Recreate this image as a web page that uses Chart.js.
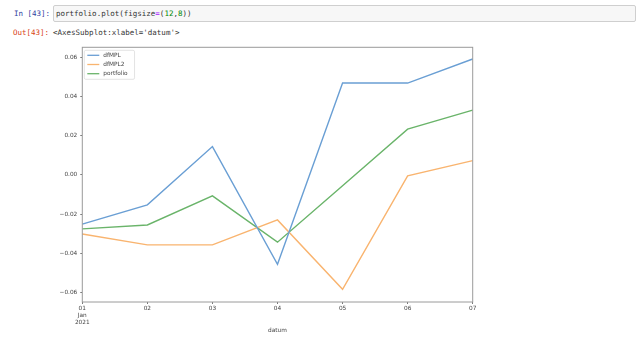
<!DOCTYPE html>
<html>
<head>
<meta charset="utf-8">
<script src="https://cdn.jsdelivr.net/npm/chart.js@4.4.1/dist/chart.umd.min.js"></script>
<style>
  html, body { margin: 0; padding: 0; background: #fff; }
  body { width: 637px; height: 337px; position: relative; overflow: hidden; }
  #chart { position: absolute; left: 0; top: 0; }
  .mono { font-family: "DejaVu Sans Mono", monospace; font-size: 7.5px; position: absolute; white-space: pre; line-height: 10px; }
  #inp { left: 14px; top: 9px; color: #303f9f; }
  #box { position: absolute; left: 53px; top: 5px; width: 583px; height: 17px; background: #f7f7f7; border: 1px solid #cfcfcf; border-radius: 2px; box-sizing: border-box; }
  #code { left: 56px; top: 9px; color: #333; }
  #out { left: 13px; top: 28px; color: #d84315; }
  #res { left: 53px; top: 28px; color: #333; }
</style>
</head>
<body>
<div id="box"></div>
<div class="mono" id="inp">In [43]:</div>
<div class="mono" id="code">portfolio.plot(figsize<span style="color:#aa22ff">=</span>(<span style="color:#080">12</span>,<span style="color:#080">8</span>))</div>
<div class="mono" id="out">Out[43]:</div>
<div class="mono" id="res">&lt;AxesSubplot:xlabel='datum'&gt;</div>
<canvas id="chart" width="637" height="337"></canvas>
<script>
const dates = [["01", "Jan", "2021"], "02", "03", "04", "05", "06", "07"];
const dfMPL = [-0.0252, -0.0153, 0.0145, -0.0457, 0.0470, 0.0470, 0.0593];
const dfMPL2 = [-0.0302, -0.0358, -0.0358, -0.0230, -0.0585, -0.0005, 0.0073];
const portfolio = [-0.0276, -0.0256, -0.0107, -0.0344, -0.0055, 0.0234, 0.0332];
const yTicks = [-0.06, -0.04, -0.02, 0.00, 0.02, 0.04, 0.06];

const tickFont = { family: "DejaVu Sans", size: 5.8, lineHeight: 1.2 };

// full box round the axes, like matplotlib spines
const frame = {
  id: 'frame',
  afterDatasetsDraw(chart) {
    const a = chart.chartArea, ctx = chart.ctx;
    ctx.save();
    ctx.strokeStyle = '#9a9a9a';
    ctx.lineWidth = 1;
    ctx.strokeRect(a.left, a.top, a.right - a.left, a.bottom - a.top);
    ctx.restore();
  }
};

// legend box in the upper left corner
const boxLegend = {
  id: 'boxLegend',
  afterDraw(chart) {
    const a = chart.chartArea, ctx = chart.ctx;
    const sets = chart.data.datasets;
    ctx.save();
    ctx.font = '5.8px "DejaVu Sans"';
    let w = 0;
    sets.forEach(d => { w = Math.max(w, ctx.measureText(d.label).width); });
    const x = a.left + 2, y = a.top + 3;
    const bw = w + 26, bh = 29;
    ctx.fillStyle = 'rgba(255,255,255,0.8)';
    ctx.strokeStyle = '#dcdcdc';
    ctx.lineWidth = 0.8;
    ctx.beginPath();
    ctx.roundRect(x, y, bw, bh, 1.5);
    ctx.fill();
    ctx.stroke();
    ctx.textBaseline = 'middle';
    sets.forEach((d, i) => {
      const ly = y + 5 + i * 9.2;
      ctx.strokeStyle = d.borderColor;
      ctx.lineWidth = 1.3;
      ctx.beginPath();
      ctx.moveTo(x + 3, ly);
      ctx.lineTo(x + 15, ly);
      ctx.stroke();
      ctx.fillStyle = '#444';
      ctx.fillText(d.label, x + 19, ly);
    });
    ctx.restore();
  }
};

new Chart(document.getElementById('chart'), {
  type: 'line',
  data: {
    labels: dates,
    datasets: [
      { label: 'dfMPL', data: dfMPL, borderColor: '#6a9fd4' },
      { label: 'dfMPL2', data: dfMPL2, borderColor: '#f9b46f' },
      { label: 'portfolio', data: portfolio, borderColor: '#6ab46a' }
    ]
  },
  options: {
    responsive: false,
    animation: false,
    layout: { padding: { top: 47.3, right: 164.3, bottom: 0, left: 0 } },
    elements: {
      line: { borderWidth: 1.4, tension: 0 },
      point: { radius: 0 }
    },
    plugins: { legend: { display: false }, tooltip: { enabled: false } },
    scales: {
      x: {
        type: 'category',
        offset: false,
        grid: { display: true, drawOnChartArea: false, tickLength: 2, color: '#777', tickColor: '#777' },
        border: { display: false },
        ticks: { font: tickFont, color: '#444', padding: 1, maxRotation: 0, autoSkip: false },
        title: { display: true, text: 'datum', font: tickFont, color: '#444', padding: { top: 0, bottom: 3.5 } },
        afterFit(s) { s.height = 35; }
      },
      y: {
        min: -0.065,
        max: 0.0653,
        grid: { display: true, drawOnChartArea: false, tickLength: 2, color: '#777', tickColor: '#777' },
        border: { display: false },
        afterBuildTicks(s) { s.ticks = yTicks.map(v => ({ value: v })); },
        ticks: {
          font: tickFont, color: '#444', padding: 3,
          callback: v => v.toFixed(2).replace('-', '\u2212')
        },
        afterFit(s) { s.width = 82.3; }
      }
    }
  },
  plugins: [frame, boxLegend]
});
</script>
</body>
</html>
